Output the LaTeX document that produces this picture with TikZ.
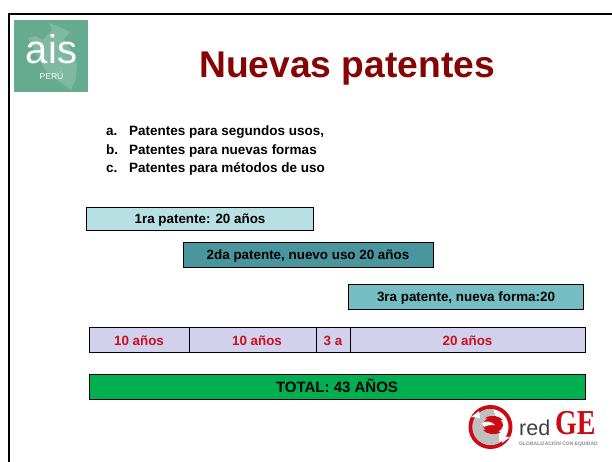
\documentclass[tikz,border=0pt]{standalone}
\usepackage{fontspec}
\setmainfont{Liberation Sans}
\newfontfamily\geserif{Liberation Serif}
\definecolor{logogreen}{HTML}{66AB8F}
\definecolor{logomap}{HTML}{7FB9A2}
\definecolor{titlered}{HTML}{860404}
\definecolor{boxa}{HTML}{B8E0E2}
\definecolor{boxb}{HTML}{4A969F}
\definecolor{boxc}{HTML}{75BEC3}
\definecolor{rowfill}{HTML}{D1D1EE}
\definecolor{rowred}{HTML}{C8101E}
\definecolor{totalgreen}{HTML}{00AF50}
\definecolor{gered}{HTML}{CC0A14}
\tikzset{
 bar/.style={draw=black,line width=0.9pt,inner sep=0pt,minimum height=0pt},
 lab/.style={font=\fontsize{13.4}{15}\selectfont\bfseries,inner sep=0pt,text=black},
 redlab/.style={lab,text=rowred},
 item/.style={font=\fontsize{13.5}{15}\selectfont\bfseries,inner sep=0pt,anchor=base west,text=black}
}
\begin{document}
\begin{tikzpicture}[x=1pt,y=-1pt]
\useasboundingbox (0,0) rectangle (612,461);
\fill[white] (0,0) rectangle (612,461);
\draw[black,line width=2.6pt] (9,470) -- (9,14) -- (620,14);
% logo
\fill[logogreen] (14,20) rectangle (88,92);
\fill[logomap] (49,23) -- (60,27) -- (70,32) -- (64,39) -- (72,52) -- (77,64) -- (76,78) -- (71,90) -- (60,82) -- (46,71) -- (36,54) -- (28,38) -- (36,36) -- (43,40) -- (52,30) -- cycle;
\node[text=white,inner sep=0pt,font=\fontsize{40}{40}\selectfont] (ais) at (51.5,49) {ais};
\node[text=white,inner sep=0pt,font=\fontsize{8.6}{9}\selectfont] (peru) at (51.5,76) {PERÚ};
% title
\node[text=titlered,inner sep=0pt,font=\fontsize{37.2}{40}\selectfont\bfseries] (title) at (347,69) {Nuevas patentes};
% list
\node[item] (la) at (106,135) {a.};
\node[item] (ta) at (129,135) {Patentes para segundos usos,};
\node[item] (lb) at (106,154) {b.};
\node[item] (tb) at (129,154) {Patentes para nuevas formas};
\node[item] (lc) at (106,172) {c.};
\node[item] (tc) at (129,172) {Patentes para métodos de uso};
% bars
\draw[bar,fill=boxa] (86.5,207.5) rectangle (313.5,230.5);
\node[lab] (p1) at (200,220.5) {1ra patente: 20 años};
\draw[bar,fill=boxb] (183,242.5) rectangle (433.5,267);
\node[lab] (p2) at (308,256) {2da patente, nuevo uso 20 años};
\draw[bar,fill=boxc] (348.5,284.5) rectangle (583.5,309);
\node[lab] (p3) at (466,298) {3ra patente, nueva forma:20};
% timeline
\draw[bar,fill=rowfill] (89.5,327.5) rectangle (585.5,352);
\draw[black,line width=0.8pt] (189.5,327.5) -- (189.5,352) (316.5,327.5) -- (316.5,352) (350.5,327.5) -- (350.5,352);
\node[redlab] (t1) at (139,341) {10 años};
\node[redlab] (t2) at (257,341) {10 años};
\node[redlab] (t3) at (333,341) {3 a};
\node[redlab] (t4) at (467.5,341) {20 años};
% total
\draw[bar,fill=totalgreen] (89.5,374.5) rectangle (585.5,399.5);
\node[font=\fontsize{15}{17}\selectfont\bfseries,inner sep=0pt] (tot) at (337,385.5) {TOTAL: 43 AÑOS};
% redGE logo
\fill[gered] (490.5,427) circle (22);
\fill[white] (490.5,427) circle (18);
\begin{scope}
\clip (490.5,427) circle (18);
\fill[black!25] (470,405) -- (492,405) -- (499,428) -- (499,450) -- (470,450) -- cycle;
\end{scope}
\fill[gered] (493,425) ellipse (10 and 7.5);
\fill[gered] (485,418) .. controls (492,414) and (499,416) .. (503,420) -- (493,420) -- cycle;
\fill[gered] (501,432) .. controls (494,436) and (487,434) .. (483,430) -- (493,430) -- cycle;
\fill[white] (482,423) .. controls (487,420) and (492,422) .. (495,425) .. controls (491,425) and (487,425) .. (484,427) -- cycle;
\fill[white] (471,417) -- (479,411) -- (480,418) -- cycle;
\fill[white] (510,437) -- (502,443) -- (501,436) -- cycle;
\node[anchor=base west,inner sep=0pt,font=\fontsize{21.5}{24}\selectfont,text=black!75] (red) at (519,435) {red};
\node[anchor=base west,inner sep=0pt,font=\fontsize{35}{35}\selectfont\bfseries\geserif,text=gered,xscale=0.8] (ge) at (555,434) {GE};
\node[anchor=base west,inner sep=0pt,font=\fontsize{5}{5}\selectfont\bfseries,text=black!45] (glob) at (519,445) {GLOBALIZACIÓN CON EQUIDAD};
\end{tikzpicture}
\end{document}
